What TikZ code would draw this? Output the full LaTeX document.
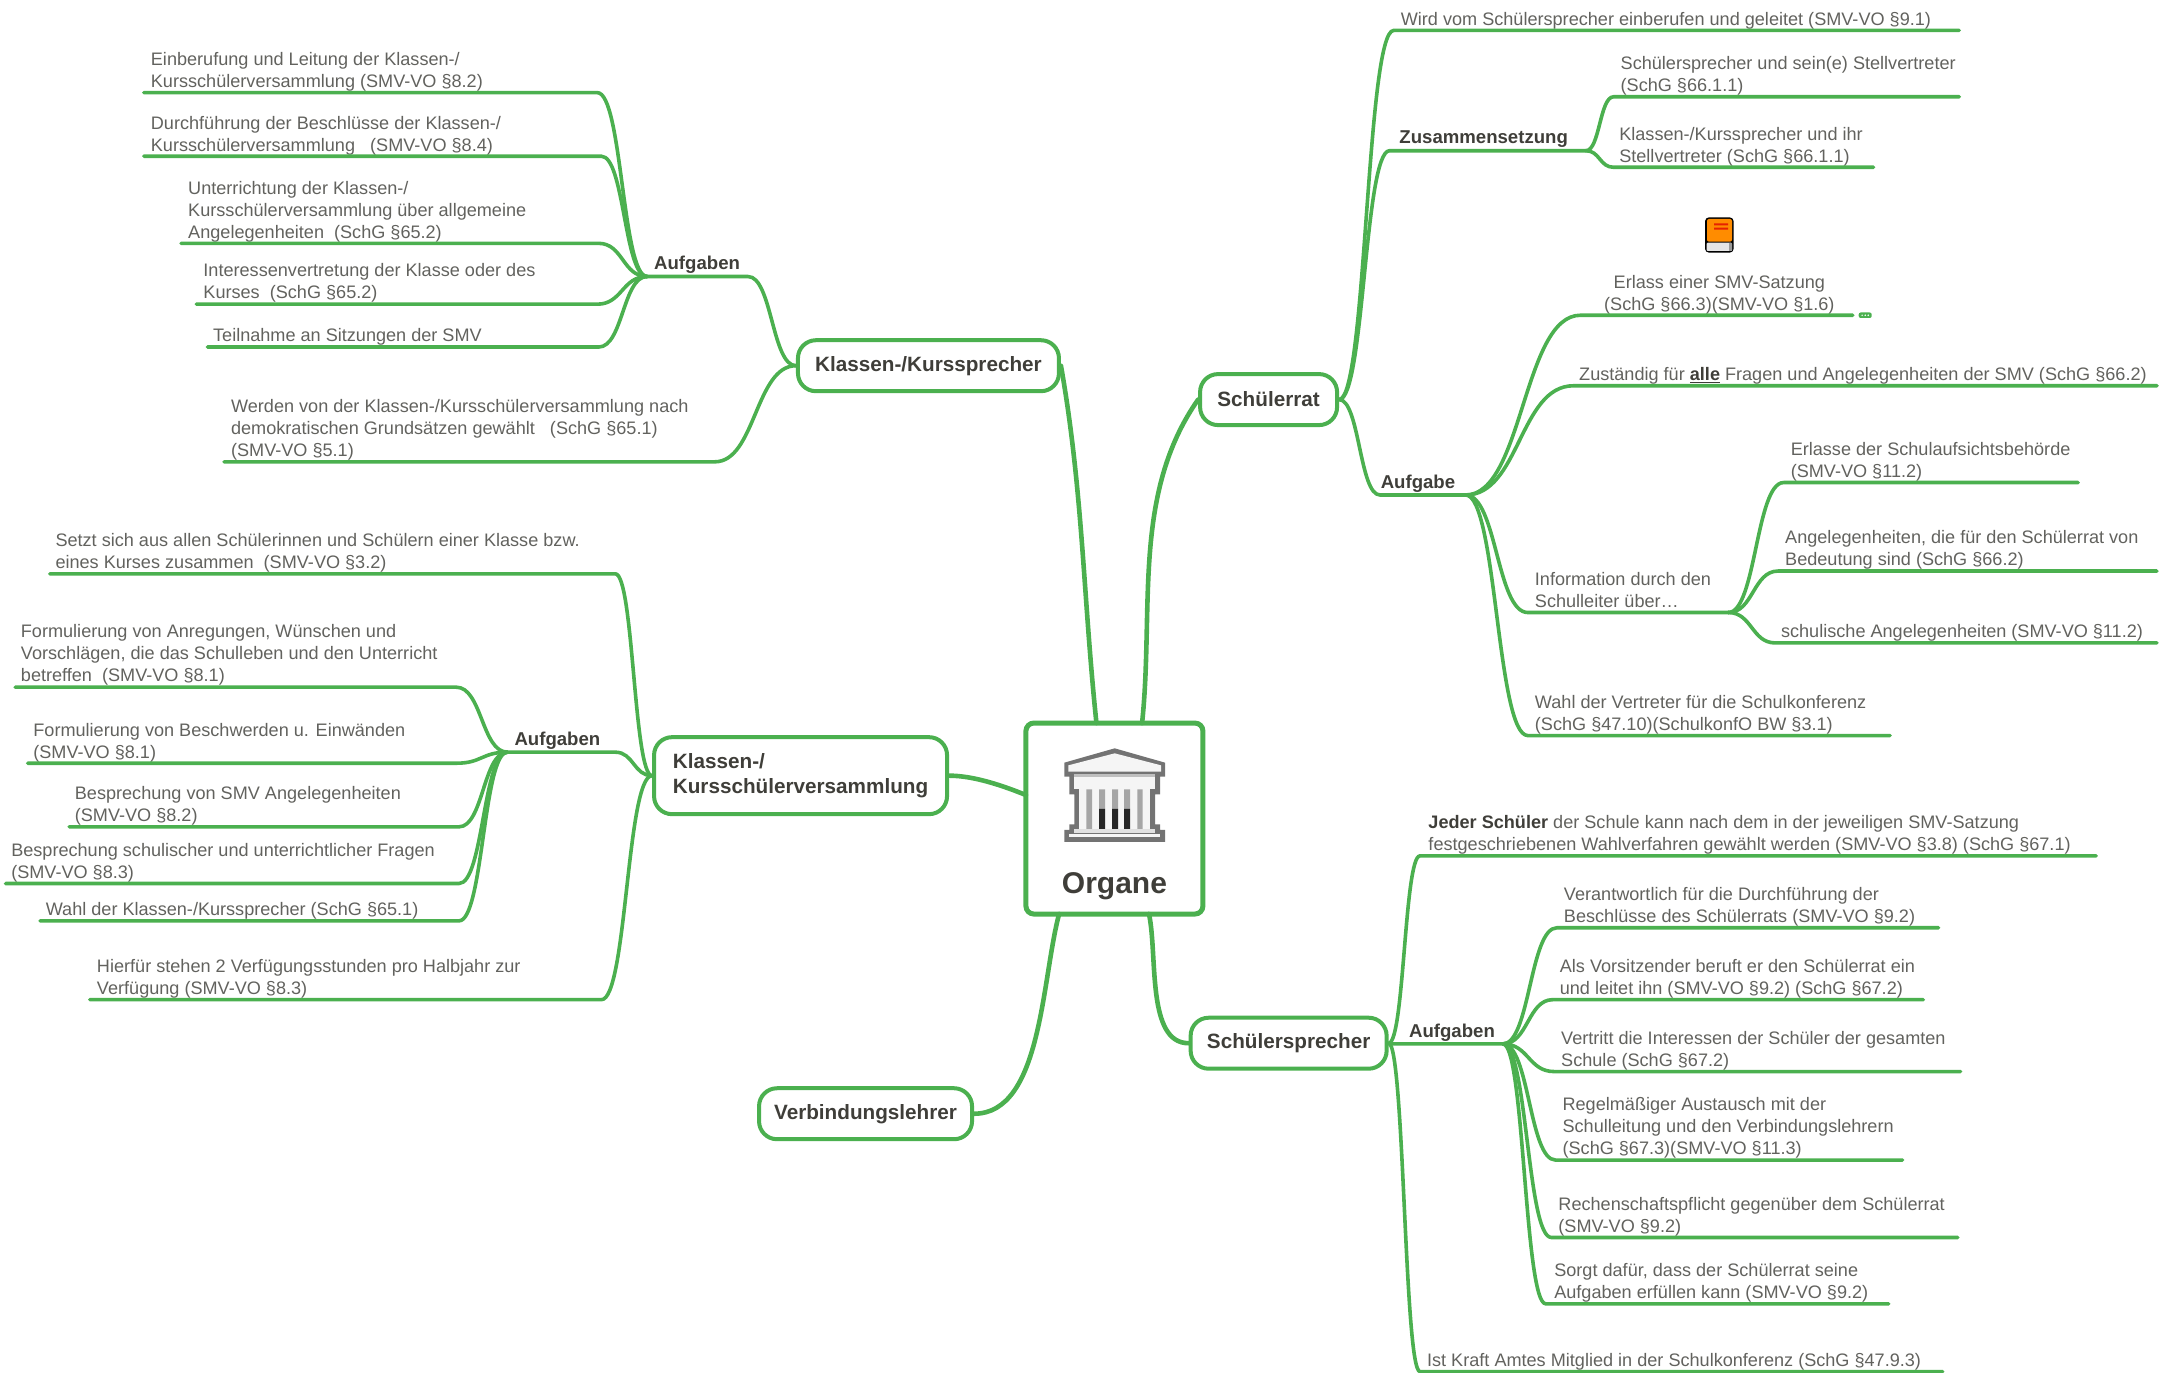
\documentclass[tikz,border=0pt]{standalone}
\usepackage{fontspec}
\usepackage{xcolor}
\setmainfont{Liberation Sans}
\usetikzlibrary{positioning,calc}

\definecolor{mapgreen}{HTML}{4BB04F}
\definecolor{leafink}{HTML}{62625E}
\definecolor{headink}{HTML}{3F3E39}

\tikzset{
  leaf/.style={anchor=south west, align=left, inner sep=0pt, text=leafink, font=\fontsize{18.1}{22}\selectfont, execute at end node=\rule[-5pt]{0pt}{5pt}},
  heading/.style={leaf, text=headink, font=\fontsize{18.6}{22}\selectfont\bfseries, execute at end node=\strut},
  topic/.style={draw=mapgreen, line width=4pt, rounded corners=18pt, align=left, text=headink, font=\fontsize{20.7}{25}\selectfont\bfseries, minimum height=51pt},
  branch/.style={draw=mapgreen, line width=3.6pt, line cap=round, line join=round},
  trunk/.style={draw=mapgreen, line width=4.6pt, line cap=round},
  sbend/.style={to path={.. controls ($(\tikztostart)!0.5!(\tikztostart -| \tikztotarget)$) and ($(\tikztotarget)!0.5!(\tikztotarget -| \tikztostart)$) .. (\tikztotarget)}}
}

\begin{document}
\begin{tikzpicture}[x=1.38265pt, y=-1.38265pt]

\useasboundingbox (0,0) rectangle (1568,992.3);

% Centre and topics

\node[draw=mapgreen, line width=5pt, rounded corners=8pt, minimum width=177pt, minimum height=191pt] (Organe) at (806,592) {};
\node[text=headink, font=\fontsize{30}{34}\selectfont\bfseries, inner sep=0pt] (OrganeLabel) at (806,641) {Organe};

\node[topic, minimum width=137pt] (Schuelerrat) at (917.5,289) {Schülerrat};
\node[topic, minimum width=261pt] (Kurssprecher) at (671.5,264.5) {Klassen-/Kurssprecher};
\node[topic, minimum width=293pt, minimum height=77pt] (Versammlung) at (579,561) {Klassen-/\\Kursschülerversammlung};
\node[topic, minimum width=213pt] (Verbindung) at (626,805.5) {Verbindungslehrer};
\node[topic, minimum width=196pt] (Schuelersprecher) at (932,754.5) {Schülersprecher};

\coordinate (OrganeTopA) at (793,523);
\coordinate (OrganeTopB) at (826,523);
\coordinate (OrganeLeft) at (742,575);
\coordinate (OrganeBottomA) at (766,661);
\coordinate (OrganeBottomB) at (831,661);

\draw[trunk] (OrganeTopA) to[out=96, in=-80, looseness=0.9] (Kurssprecher.east);
\draw[trunk] (OrganeTopB) to[out=84, in=-125, looseness=0.9] (Schuelerrat.west);
\draw[trunk] (OrganeLeft) to[out=158, in=0, looseness=0.8] (Versammlung.east);
\draw[trunk] (OrganeBottomA) to[out=-105, in=0, looseness=0.8] (Verbindung.east);
\draw[trunk] (OrganeBottomB) to[out=-78, in=180, looseness=0.8] (Schuelersprecher.west);

% Schuelerrat

\node[leaf] (EinberufenText) at (1013,22) {Wird vom Schülersprecher einberufen und geleitet (SMV-VO §9.1)};
\coordinate (EinberufenStart) at (1008,22);
\coordinate (EinberufenEnd) at (1417,22);
\draw[branch, sbend] (Schuelerrat.east) to (EinberufenStart) -- (EinberufenEnd);

\node[heading] (ZusammenText) at (1012,109) {Zusammensetzung};
\coordinate (ZusammenStart) at (1005,109);
\coordinate (ZusammenHub) at (1147,109);
\draw[branch, sbend] (Schuelerrat.east) to (ZusammenStart) -- (ZusammenHub);

\node[leaf] (StellvertreterText) at (1172,70) {Schülersprecher und sein(e) Stellvertreter\\(SchG §66.1.1)};
\coordinate (StellvertreterStart) at (1167,70);
\coordinate (StellvertreterEnd) at (1417,70);
\draw[branch, sbend] (ZusammenHub) to (StellvertreterStart) -- (StellvertreterEnd);

\node[leaf] (KlassenSprText) at (1171,121) {Klassen-/Kurssprecher und ihr\\Stellvertreter (SchG §66.1.1)};
\coordinate (KlassenSprStart) at (1167,121);
\coordinate (KlassenSprEnd) at (1355,121);
\draw[branch, sbend] (ZusammenHub) to (KlassenSprStart) -- (KlassenSprEnd);

\node[heading] (AufgabeText) at (998.5,358) {Aufgabe};
\coordinate (AufgabeStart) at (998,358);
\coordinate (AufgabeHub) at (1060,358);
\draw[branch, sbend] (Schuelerrat.east) to (AufgabeStart) -- (AufgabeHub);

\node[leaf, anchor=south, align=center] (SatzungText) at (1243.5,228) {Erlass einer SMV-Satzung\\(SchG §66.3)(SMV-VO §1.6)};
\coordinate (SatzungStart) at (1143,228);
\coordinate (SatzungEnd) at (1340,228);
\draw[branch, sbend] (AufgabeHub) to (SatzungStart) -- (SatzungEnd);

\node[fill=mapgreen, rounded corners=2pt, minimum width=13pt, minimum height=5.5pt, inner sep=0pt] (SatzungMore) at (1349,228) {};
\fill[white] (1346.8,228) circle (0.8pt) (1349,228) circle (0.8pt) (1351.2,228) circle (0.8pt);

\node[leaf] (ZustaendigText) at (1142,279) {Zuständig für {\color{headink}\underline{\textbf{alle}}} Fragen und Angelegenheiten der SMV (SchG §66.2)};
\coordinate (ZustaendigStart) at (1138,279);
\coordinate (ZustaendigEnd) at (1560,279);
\draw[branch, sbend] (AufgabeHub) to (ZustaendigStart) -- (ZustaendigEnd);

\node[leaf] (InfoText) at (1110,443) {Information durch den\\Schulleiter über…};
\coordinate (InfoStart) at (1105,443);
\coordinate (InfoHub) at (1250,443);
\draw[branch, sbend] (AufgabeHub) to (InfoStart) -- (InfoHub);

\node[leaf] (ErlasseText) at (1295,349) {Erlasse der Schulaufsichtsbehörde\\(SMV-VO §11.2)};
\coordinate (ErlasseStart) at (1290,349);
\coordinate (ErlasseEnd) at (1503,349);
\draw[branch, sbend] (InfoHub) to (ErlasseStart) -- (ErlasseEnd);

\node[leaf] (BedeutungText) at (1291,413) {Angelegenheiten, die für den Schülerrat von\\Bedeutung sind (SchG §66.2)};
\coordinate (BedeutungStart) at (1286,413);
\coordinate (BedeutungEnd) at (1560,413);
\draw[branch, sbend] (InfoHub) to (BedeutungStart) -- (BedeutungEnd);

\node[leaf] (SchulischText) at (1288,465) {schulische Angelegenheiten (SMV-VO §11.2)};
\coordinate (SchulischStart) at (1284,465);
\coordinate (SchulischEnd) at (1560,465);
\draw[branch, sbend] (InfoHub) to (SchulischStart) -- (SchulischEnd);

\node[leaf] (WahlText) at (1110,532) {Wahl der Vertreter für die Schulkonferenz\\(SchG §47.10)(SchulkonfO BW §3.1)};
\coordinate (WahlStart) at (1105,532);
\coordinate (WahlEnd) at (1367,532);
\draw[branch, sbend] (AufgabeHub) to (WahlStart) -- (WahlEnd);

% Schuelersprecher

\node[leaf] (JederText) at (1033,619) {{\color{headink}\textbf{Jeder Schüler}} der Schule kann nach dem in der jeweiligen SMV-Satzung\\festgeschriebenen Wahlverfahren gewählt werden (SMV-VO §3.8) (SchG §67.1)};
\coordinate (JederStart) at (1027,619);
\coordinate (JederEnd) at (1516,619);
\draw[branch, sbend] (Schuelersprecher.east) to (JederStart) -- (JederEnd);

\node[heading] (SprAufgabenText) at (1019,755) {Aufgaben};
\coordinate (SprAufgabenStart) at (1005,755);
\coordinate (SprAufgabenHub) at (1087,755);
\draw[branch] (Schuelersprecher.east) -- (SprAufgabenStart) -- (SprAufgabenHub);

\node[leaf] (VerantwortText) at (1131,671) {Verantwortlich für die Durchführung der\\Beschlüsse des Schülerrats (SMV-VO §9.2)};
\coordinate (VerantwortStart) at (1126,671);
\coordinate (VerantwortEnd) at (1402,671);
\draw[branch, sbend] (SprAufgabenHub) to (VerantwortStart) -- (VerantwortEnd);

\node[leaf] (VorsitzText) at (1128,723) {Als Vorsitzender beruft er den Schülerrat ein\\und leitet ihn (SMV-VO §9.2) (SchG §67.2)};
\coordinate (VorsitzStart) at (1123,723);
\coordinate (VorsitzEnd) at (1391,723);
\draw[branch, sbend] (SprAufgabenHub) to (VorsitzStart) -- (VorsitzEnd);

\node[leaf] (VertrittText) at (1129,775) {Vertritt die Interessen der Schüler der gesamten\\Schule (SchG §67.2)};
\coordinate (VertrittStart) at (1124,775);
\coordinate (VertrittEnd) at (1418,775);
\draw[branch, sbend] (SprAufgabenHub) to (VertrittStart) -- (VertrittEnd);

\node[leaf] (AustauschText) at (1130,839) {Regelmäßiger Austausch mit der\\Schulleitung und den Verbindungslehrern\\(SchG §67.3)(SMV-VO §11.3)};
\coordinate (AustauschStart) at (1125,839);
\coordinate (AustauschEnd) at (1376,839);
\draw[branch, sbend] (SprAufgabenHub) to (AustauschStart) -- (AustauschEnd);

\node[leaf] (RechenText) at (1127,895) {Rechenschaftspflicht gegenüber dem Schülerrat\\(SMV-VO §9.2)};
\coordinate (RechenStart) at (1122,895);
\coordinate (RechenEnd) at (1416,895);
\draw[branch, sbend] (SprAufgabenHub) to (RechenStart) -- (RechenEnd);

\node[leaf] (SorgtText) at (1124,943) {Sorgt dafür, dass der Schülerrat seine\\Aufgaben erfüllen kann (SMV-VO §9.2)};
\coordinate (SorgtStart) at (1118,943);
\coordinate (SorgtEnd) at (1366,943);
\draw[branch, sbend] (SprAufgabenHub) to (SorgtStart) -- (SorgtEnd);

\node[leaf] (KraftText) at (1032,992) {Ist Kraft Amtes Mitglied in der Schulkonferenz (SchG §47.9.3)};
\coordinate (KraftStart) at (1027,992);
\coordinate (KraftEnd) at (1405,992);
\draw[branch, sbend] (Schuelersprecher.east) to (KraftStart) -- (KraftEnd);

% Klassen-/Kurssprecher

\node[heading] (KsAufgabenText) at (473,200) {Aufgaben};
\coordinate (KsAufgabenHub) at (468,200);
\coordinate (KsAufgabenEnd) at (541,200);
\draw[branch, sbend] (Kurssprecher.west) to (KsAufgabenEnd) -- (KsAufgabenHub);

\node[leaf] (EinberufungText) at (109,67) {Einberufung und Leitung der Klassen-/\\Kursschülerversammlung (SMV-VO §8.2)};
\coordinate (EinberufungStart) at (104,67);
\coordinate (EinberufungEnd) at (432,67);
\draw[branch, sbend] (KsAufgabenHub) to (EinberufungEnd) -- (EinberufungStart);

\node[leaf] (BeschluesseText) at (109,113) {Durchführung der Beschlüsse der Klassen-/\\Kursschülerversammlung \ \ (SMV-VO §8.4)};
\coordinate (BeschluesseStart) at (104,113);
\coordinate (BeschluesseEnd) at (435,113);
\draw[branch, sbend] (KsAufgabenHub) to (BeschluesseEnd) -- (BeschluesseStart);

\node[leaf] (UnterrichtungText) at (136,176) {Unterrichtung der Klassen-/\\Kursschülerversammlung über allgemeine\\Angelegenheiten \ (SchG §65.2)};
\coordinate (UnterrichtungStart) at (131,176);
\coordinate (UnterrichtungEnd) at (433,176);
\draw[branch, sbend] (KsAufgabenHub) to (UnterrichtungEnd) -- (UnterrichtungStart);

\node[leaf] (InteressenText) at (147,220) {Interessenvertretung der Klasse oder des\\Kurses \ (SchG §65.2)};
\coordinate (InteressenStart) at (142,220);
\coordinate (InteressenEnd) at (432,220);
\draw[branch, sbend] (KsAufgabenHub) to (InteressenEnd) -- (InteressenStart);

\node[leaf] (TeilnahmeText) at (154,251) {Teilnahme an Sitzungen der SMV};
\coordinate (TeilnahmeStart) at (150,251);
\coordinate (TeilnahmeEnd) at (433,251);
\draw[branch, sbend] (KsAufgabenHub) to (TeilnahmeEnd) -- (TeilnahmeStart);

\node[leaf] (GewaehltText) at (167,334) {Werden von der Klassen-/Kursschülerversammlung nach\\demokratischen Grundsätzen gewählt \ \ (SchG §65.1)\\(SMV-VO §5.1)};
\coordinate (GewaehltStart) at (162,334);
\coordinate (GewaehltEnd) at (517,334);
\draw[branch, sbend] (Kurssprecher.west) to (GewaehltEnd) -- (GewaehltStart);

% Klassen-/Kursschuelerversammlung

\node[leaf] (SetztText) at (40,415) {Setzt sich aus allen Schülerinnen und Schülern einer Klasse bzw.\\eines Kurses zusammen \ (SMV-VO §3.2)};
\coordinate (SetztStart) at (36,415);
\coordinate (SetztEnd) at (445,415);
\draw[branch, sbend] (Versammlung.west) to (SetztEnd) -- (SetztStart);

\node[heading] (KvAufgabenText) at (372,544) {Aufgaben};
\coordinate (KvAufgabenHub) at (367,544);
\coordinate (KvAufgabenEnd) at (445,544);
\draw[branch, sbend] (Versammlung.west) to (KvAufgabenEnd) -- (KvAufgabenHub);

\node[leaf] (AnregungText) at (15,497) {Formulierung von Anregungen, Wünschen und\\Vorschlägen, die das Schulleben und den Unterricht\\betreffen \ (SMV-VO §8.1)};
\coordinate (AnregungStart) at (11,497);
\coordinate (AnregungEnd) at (330,497);
\draw[branch, sbend] (KvAufgabenHub) to (AnregungEnd) -- (AnregungStart);

\node[leaf] (BeschwerdeText) at (24,552) {Formulierung von Beschwerden u. Einwänden\\(SMV-VO §8.1)};
\coordinate (BeschwerdeStart) at (20,552);
\coordinate (BeschwerdeEnd) at (330,552);
\draw[branch, sbend] (KvAufgabenHub) to (BeschwerdeEnd) -- (BeschwerdeStart);

\node[leaf] (SmvText) at (54,598) {Besprechung von SMV Angelegenheiten\\(SMV-VO §8.2)};
\coordinate (SmvStart) at (50,598);
\coordinate (SmvEnd) at (332,598);
\draw[branch, sbend] (KvAufgabenHub) to (SmvEnd) -- (SmvStart);

\node[leaf] (FragenText) at (8,639) {Besprechung schulischer und unterrichtlicher Fragen\\(SMV-VO §8.3)};
\coordinate (FragenStart) at (4,639);
\coordinate (FragenEnd) at (332,639);
\draw[branch, sbend] (KvAufgabenHub) to (FragenEnd) -- (FragenStart);

\node[leaf] (KlassenWahlText) at (33,666) {Wahl der Klassen-/Kurssprecher (SchG §65.1)};
\coordinate (KlassenWahlStart) at (29,666);
\coordinate (KlassenWahlEnd) at (332,666);
\draw[branch, sbend] (KvAufgabenHub) to (KlassenWahlEnd) -- (KlassenWahlStart);

\node[leaf] (StundenText) at (70,723) {Hierfür stehen 2 Verfügungsstunden pro Halbjahr zur\\Verfügung (SMV-VO §8.3)};
\coordinate (StundenStart) at (65,723);
\coordinate (StundenEnd) at (435,723);
\draw[branch, sbend] (Versammlung.west) to (StundenEnd) -- (StundenStart);

% Building icon

\begin{scope}[x=0.33333pt, y=-0.33333pt, shift={(2940,2040)}]
  \fill[black!55] (253,248) -- (404,205) -- (555,248) -- (555,290) -- (540,290) -- (540,343) -- (525,343) -- (525,433) -- (540,433) -- (540,450) -- (555,450) -- (555,486) -- (253,486) -- (253,450) -- (268,450) -- (268,433) -- (283,433) -- (283,343) -- (268,343) -- (268,290) -- (253,290) -- cycle;
  \fill[black!4] (265,256) -- (404,220) -- (543,256) -- (543,275) -- (265,275) -- cycle;
  \fill[black!4] (283,283) rectangle (525,327);
  \fill[black!25] (283,283) rectangle (525,291);
  \fill[black!4] (297,328) rectangle (511,448);
  \fill[black!35] (319,328) rectangle (336,448) (357,328) rectangle (375,387) (396,328) rectangle (414,387) (432,328) rectangle (450,387) (472,328) rectangle (488,448);
  \fill[black!85] (357,387) rectangle (375,450) (396,387) rectangle (414,450) (432,387) rectangle (450,450);
  \fill[black!12] (283,448) rectangle (525,458);
  \fill[black!4] (268,462) rectangle (540,470);
\end{scope}

% Book icon

\begin{scope}[x=0.33333pt, y=-0.33333pt, shift={(4980,570)}]
  \fill[black, rounded corners=4pt] (135,82) rectangle (221,188);
  \fill[white!90!black, rounded corners=1pt] (140,158) rectangle (216,183);
  \fill[black!40] (206,160) rectangle (216,183);
  \fill[orange!90!yellow, rounded corners=2pt] (141,87) rectangle (216,155);
  \fill[red!70!orange!90!black] (162,100) rectangle (204,106) (162,113) rectangle (204,119);
\end{scope}

\end{tikzpicture}
\end{document}
